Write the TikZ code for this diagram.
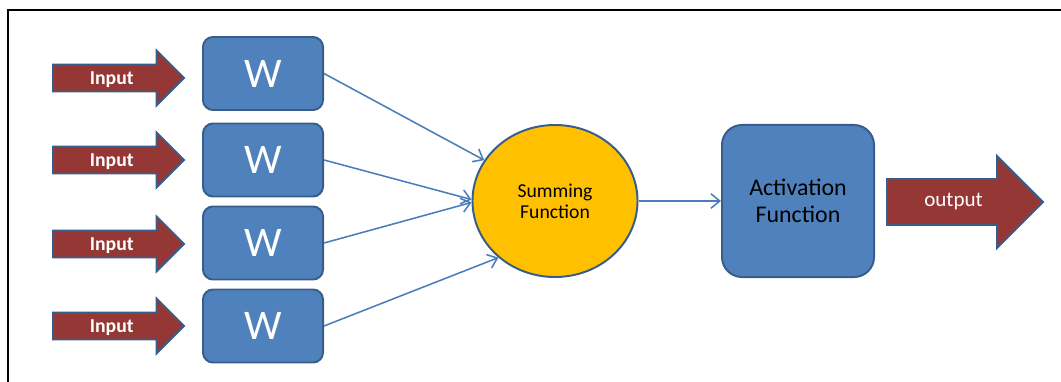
\documentclass[tikz,border=0pt]{standalone}
\usepackage{fontspec}
\setmainfont{Carlito}
\usepackage{tikz}
\usetikzlibrary{positioning}
\usetikzlibrary{shapes.geometric,shapes.arrows}
\usetikzlibrary{arrows.meta}
\definecolor{boxblue}{HTML}{4F81BD}
\definecolor{edgeblue}{HTML}{385D8A}
\definecolor{linkblue}{HTML}{4A7EBB}
\definecolor{arrowred}{HTML}{953735}
\definecolor{sumgold}{HTML}{FFC000}
\tikzset{>={Straight Barb[length=2.2mm,width=3.6mm]}}
\tikzset{
  wbox/.style={draw=edgeblue,fill=boxblue,line width=1.4pt,rounded corners=0.25cm,
    minimum width=3cm,minimum height=1.825cm,inner sep=0pt,text=white,
    font=\fontsize{30}{32}\selectfont},
  inarrow/.style={single arrow,draw=edgeblue,fill=arrowred,line width=1.4pt,
    single arrow head extend=0.35cm,minimum height=3.275cm,inner xsep=2pt,inner ysep=0pt,
    text height=0.47cm,text depth=0.155cm,text=white,anchor=tail,
    font=\bfseries\fontsize{14}{16}\selectfont},
  outarrow/.style={single arrow,draw=edgeblue,fill=arrowred,line width=1.4pt,
    single arrow head extend=0.575cm,minimum height=3.9cm,inner xsep=2pt,inner ysep=0pt,
    text height=0.673cm,text depth=0.427cm,text=white,anchor=tail,
    font=\fontsize{15}{17}\selectfont},
  link/.style={linkblue,line width=1.1pt,->}
}

\begin{document}
\begin{tikzpicture}[x=0.025cm,y=-0.025cm]
\useasboundingbox (0,0) rectangle (1061,382);

% Frame
\draw[line width=1.8pt] (8,382) -- (8,10) -- (1061,10);

% Inputs and weights
\node[inarrow] (in1) at (52,78) {Input};
\node[inarrow] (in2) at (52,160) {Input};
\node[inarrow] (in3) at (52,244) {Input};
\node[inarrow] (in4) at (52,326) {Input};

\node[wbox] (w1) at (263,73.5) {W};
\node[wbox] (w2) at (263,160) {W};
\node[wbox] (w3) at (263,243) {W};
\node[wbox] (w4) at (263,326) {W};

% Summing and activation
\node[ellipse,draw=edgeblue,fill=sumgold,line width=1.4pt,minimum width=4.125cm,
  minimum height=3.8cm,align=center,font=\fontsize{14}{15}\selectfont] (sum) at (555,201)
  {Summing\\Function};
\node[draw=edgeblue,fill=boxblue,line width=1.4pt,rounded corners=0.5cm,minimum width=3.8cm,
  minimum height=3.8cm,align=center,font=\fontsize{17}{19}\selectfont] (act) at (798,201)
  {Activation\\Function};

\node[outarrow] (out) at (886,202) {output};

% Links
\draw[link] (w1.east) -- (sum.150);
\draw[link] (w2.east) -- (sum.179);
\draw[link] (w3.east) -- (sum.181);
\draw[link] (w4.east) -- (sum.225);
\draw[link] (sum) -- (act);

\end{tikzpicture}
\end{document}
